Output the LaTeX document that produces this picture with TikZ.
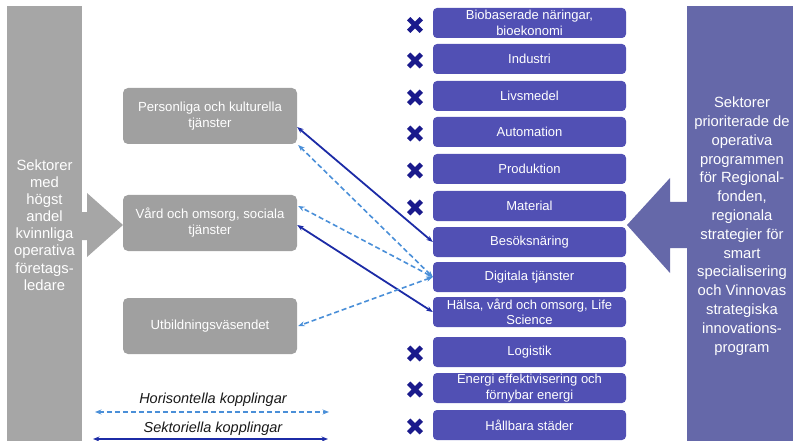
\documentclass[tikz,border=0pt]{standalone}
\usepackage{fontspec}
\setmainfont{Liberation Sans}
\usetikzlibrary{arrows.meta,calc}
\definecolor{bargray}{HTML}{A6A6A6}
\definecolor{boxgray}{HTML}{A0A0A0}
\definecolor{boxpurple}{HTML}{5150B4}
\definecolor{barpurple}{HTML}{6568A9}
\definecolor{xnavy}{HTML}{1A1A8C}
\definecolor{solidblue}{HTML}{1C2BA6}
\definecolor{dashblue}{HTML}{4A8FD8}
\begin{document}
\begin{tikzpicture}[x=1pt,y=-1pt,
  graybox/.style={rectangle,rounded corners=5pt,fill=boxgray,text=white,
    minimum width=174pt,minimum height=56pt,inner sep=0pt,align=center,
    font=\fontsize{13.2}{16}\selectfont},
  purplebox/.style={rectangle,rounded corners=4pt,fill=boxpurple,text=white,
    minimum width=193pt,minimum height=30pt,inner sep=0pt,align=center,
    font=\fontsize{13}{15.5}\selectfont},
  solidlink/.style={draw=solidblue,line width=1.8pt,{Stealth[length=6.5pt,width=5pt]}-{Stealth[length=6.5pt,width=5pt]}},
  dashlink/.style={draw=dashblue,line width=1.6pt,dash pattern=on 5pt off 3pt,{Stealth[length=6.5pt,width=5pt]}-{Stealth[length=6.5pt,width=5pt]}},
  legendtext/.style={font=\fontsize{14.5}{17}\selectfont\itshape,text=black!90,inner sep=0pt},
  xm/.pic={\draw[xnavy,line width=4.8pt] (-6.3,-6.3) -- (6.3,6.3) (-6.3,6.3) -- (6.3,-6.3);}
]
\useasboundingbox (0,0) rectangle (793,441);

% left bar and arrow
\fill[bargray] (80,212) -- (87,212) -- (87,193) -- (123,225) -- (87,257) -- (87,240) -- (80,240) -- cycle;
\node[rectangle,fill=bargray,minimum width=75pt,minimum height=435pt,inner sep=0pt,anchor=north west] (lbar) at (7,6) {};
\node[text=white,align=center,font=\fontsize{14.8}{17.1}\selectfont,inner sep=0pt] (ltext) at (44.5,225)
  {Sektorer\\med\\högst\\andel\\kvinnliga\\operativa\\företags-\\ledare};

% right bar and arrow
\fill[barpurple] (690,202) -- (670,202) -- (670,178) -- (627,225) -- (670,273) -- (670,248) -- (690,248) -- cycle;
\node[rectangle,fill=barpurple,minimum width=106pt,minimum height=435pt,inner sep=0pt,anchor=north west] (rbar) at (687,6) {};
\node[text=white,align=center,font=\fontsize{14.8}{18.8}\selectfont,inner sep=0pt] (rtext) at (742,226)
  {Sektorer\\prioriterade de\\operativa\\programmen\\för Regional-\\fonden,\\regionala\\strategier för\\smart\\specialisering\\och Vinnovas\\strategiska\\innovations-\\program};

% gray boxes
\node[graybox] (g1) at (210,116) {Personliga och kulturella\\tjänster};
\node[graybox] (g2) at (210,223) {Vård och omsorg, sociala\\tjänster};
\node[graybox] (g3) at (210,326) {Utbildningsväsendet};

% purple boxes
\node[purplebox] (s1) at (529.5,23) {Biobaserade näringar,\\bioekonomi};
\node[purplebox] (s2) at (529.5,59) {Industri};
\node[purplebox] (s3) at (529.5,96) {Livsmedel};
\node[purplebox] (s4) at (529.5,132) {Automation};
\node[purplebox] (s5) at (529.5,169) {Produktion};
\node[purplebox] (s6) at (529.5,206) {Material};
\node[purplebox] (s7) at (529.5,242) {Besöksnäring};
\node[purplebox] (s8) at (529.5,277) {Digitala tjänster};
\node[purplebox] (s9) at (529.5,312) {Hälsa, vård och omsorg, Life\\Science};
\node[purplebox] (s10) at (529.5,352) {Logistik};
\node[purplebox] (s11) at (529.5,388) {Energi effektivisering och\\förnybar energi};
\node[purplebox] (s12) at (529.5,425) {Hållbara städer};

% x marks
\foreach \yy in {25,60.5,97.5,133.5,170.5,207.5,353.5,389.5,426.5}
  \pic at (415,\yy) {xm};

% connectors
\draw[solidlink] (s7.west) -- ($(g1.east)+(0,11)$);
\draw[dashlink] (s8.west) -- ($(g1.east)+(1,29)$);
\draw[dashlink] (s8.west) -- ($(g2.east)+(1,-17)$);
\draw[solidlink] (s9.west) -- ($(g2.east)+(0,2)$);
\draw[dashlink] (s8.west) -- ($(g3.east)+(1,0)$);

% legend
\node[legendtext] (lh) at (213,400) {Horisontella kopplingar};
\node[legendtext] (ls) at (213,429) {Sektoriella kopplingar};
\coordinate (lha) at (95,412);
\coordinate (lhb) at (329,412);
\coordinate (lsa) at (93,439);
\coordinate (lsb) at (328,439);
\draw[dashlink] (lha) -- (lhb);
\draw[solidlink] (lsa) -- (lsb);
\end{tikzpicture}
\end{document}
